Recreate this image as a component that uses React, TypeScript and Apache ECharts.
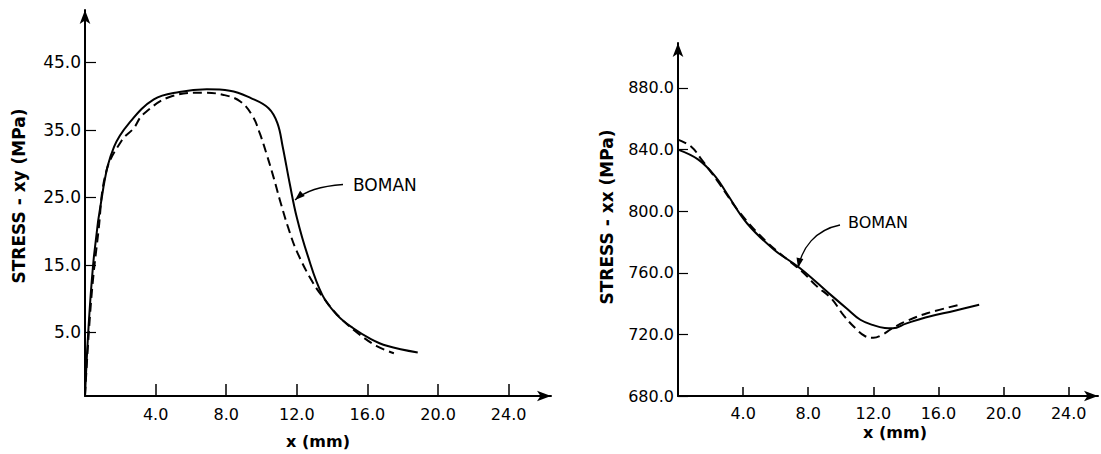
import React, { useEffect, useRef } from "react";
import * as echarts from "echarts";

// ---- Left panel: STRESS - xy ----
const leftXTicks = [4, 8, 12, 16, 20, 24];
const leftYTicks = [5, 15, 25, 35, 45];
const leftSolid: number[][] = [
  [0, -4.4], [0.45, 14.7], [1.05, 26.6], [1.65, 32.5], [2.5, 36.0], [3.9, 39.5],
  [5.35, 40.6], [6.9, 41.0], [8.2, 40.8], [9.4, 39.7], [10.4, 38.2], [10.9, 36.0],
  [11.2, 32.5], [11.6, 27.0], [12.0, 22.0], [12.6, 16.5], [13.45, 10.5], [14.3, 7.5],
  [15.2, 5.6], [16.2, 4.0], [17.1, 3.0], [18.85, 2.0],
];
const leftDashed: number[][] = [
  [0, -4.4], [0.35, 9.8], [0.75, 19.7], [1.2, 28.8], [2.1, 33.5], [2.75, 35.2],
  [3.3, 37.3], [4.95, 40.0], [6.7, 40.5], [7.8, 40.2], [8.8, 39.2], [9.5, 37.0],
  [9.9, 34.5], [10.3, 31.3], [10.7, 27.8], [11.05, 24.5], [11.5, 20.6], [12.0, 17.0],
  [12.9, 12.4], [13.6, 9.8], [14.4, 7.3], [15.35, 5.1], [16.5, 3.0], [17.5, 1.9],
];

// ---- Right panel: STRESS - xx ----
const rightXTicks = [4, 8, 12, 16, 20, 24];
const rightYTicks = [680, 720, 760, 800, 840, 880];
const rightSolid: number[][] = [
  [0, 840], [1.25, 833.5], [2.3, 822.5], [3.0, 811.5], [4.25, 792], [5.9, 775],
  [7.5, 763], [9.4, 745.5], [10.4, 736.5], [11.2, 729.5], [12.0, 726], [12.7, 724.2],
  [13.2, 724], [14.0, 727], [15.2, 731], [17.0, 735.4], [18.5, 739.2],
];
const rightDashed: number[][] = [
  [0, 846.5], [0.8, 842], [1.45, 833.5], [2.5, 818.5], [3.8, 799], [5.5, 779.5],
  [7.6, 761], [8.5, 751.5], [9.4, 743.5], [10.2, 732], [10.9, 724], [11.5, 718.8],
  [12.0, 717.8], [12.5, 719.5], [13.1, 723.5], [14.0, 728.5], [15.3, 733.7], [17.2, 739.0],
];

const labelText = "BOMAN";
const FONT = "DejaVu Sans";

function arrowHead(tip: number[], from: number[], len = 10, w = 3.5) {
  const dx = tip[0] - from[0];
  const dy = tip[1] - from[1];
  const L = Math.hypot(dx, dy) || 1;
  const ux = dx / L, uy = dy / L;
  const bx = tip[0] - ux * len, by = tip[1] - uy * len;
  const px = -uy, py = ux;
  return [tip, [bx + px * w, by + py * w], [bx - px * w, by - py * w]];
}

export default function App() {
  const ref = useRef<HTMLDivElement>(null);
  useEffect(() => {
    if (!ref.current) return;
    const chart = echarts.init(ref.current, null, { renderer: "svg" });

    const axisCommon = (fontSize: number) => ({
      axisLine: {
        show: true,
        onZero: false,
        symbol: ["none", "arrow"],
        symbolSize: [8, 14],
        lineStyle: { color: "#000", width: 2 },
      },
      splitLine: { show: false },
      axisLabel: {
        color: "#000",
        fontFamily: FONT,
        fontSize,
        formatter: (v: number) => v.toFixed(1),
      },
    });

    const lineSeries = (data: number[][], idx: number, dashed: boolean) => ({
      type: "line",
      xAxisIndex: idx,
      yAxisIndex: idx,
      data,
      showSymbol: false,
      symbol: "none",
      smooth: 0.4,
      lineStyle: {
        color: "#000",
        width: 2,
        type: dashed ? [9, 5] : "solid",
      },
      silent: true,
    });

    const lStart = [343, 184.5], lC1 = [322, 186], lC2 = [305, 191], lEnd = [295, 200];
    const rStart = [840, 225], rC1 = [815, 230], rC2 = [802, 248], rEnd = [798, 268];

    chart.setOption({
      animation: false,
      backgroundColor: "#fff",
      grid: [
        { left: 85, right: 550, top: 10, bottom: 58 },
        { left: 678, right: 3, top: 43, bottom: 58 },
      ],
      xAxis: [
        {
          gridIndex: 0, type: "value", min: 0, max: 26.4,
          ...axisCommon(16),
          axisTick: { show: true, inside: true, length: 12, customValues: leftXTicks, lineStyle: { color: "#000", width: 1.5 } },
          axisLabel: { ...axisCommon(16).axisLabel, margin: 10, customValues: leftXTicks },
        },
        {
          gridIndex: 1, type: "value", min: 0, max: 25.8,
          ...axisCommon(16),
          axisTick: { show: true, inside: true, length: 9, customValues: rightXTicks, lineStyle: { color: "#000", width: 1.5 } },
          axisLabel: { ...axisCommon(16).axisLabel, margin: 9, customValues: rightXTicks },
        },
      ],
      yAxis: [
        {
          gridIndex: 0, type: "value", min: -4.44, max: 52.75,
          ...axisCommon(17),
          axisTick: { show: true, inside: true, length: 11, customValues: leftYTicks, lineStyle: { color: "#000", width: 1.2 } },
          axisLabel: { ...axisCommon(17).axisLabel, margin: 4, customValues: leftYTicks },
        },
        {
          gridIndex: 1, type: "value", min: 680, max: 909.2,
          ...axisCommon(16),
          axisTick: { show: true, inside: true, length: 10, customValues: rightYTicks, lineStyle: { color: "#000", width: 1.2 } },
          axisLabel: { ...axisCommon(16).axisLabel, margin: 4, customValues: rightYTicks },
        },
      ],
      series: [
        lineSeries(leftSolid, 0, false),
        lineSeries(leftDashed, 0, true),
        lineSeries(rightSolid, 1, false),
        lineSeries(rightDashed, 1, true),
      ],
      graphic: [
        {
          type: "text", x: 19, y: 196, rotation: Math.PI / 2,
          style: { text: "STRESS - xy (MPa)", fontFamily: FONT, fontWeight: "bold", fontSize: 17, fill: "#000", align: "center", verticalAlign: "middle" },
        },
        {
          type: "text", x: 318, y: 441,
          style: { text: "x (mm)", fontFamily: FONT, fontWeight: "bold", fontSize: 16, fill: "#000", align: "center", verticalAlign: "middle" },
        },
        {
          type: "text", x: 607, y: 217, rotation: Math.PI / 2,
          style: { text: "STRESS - xx (MPa)", fontFamily: FONT, fontWeight: "bold", fontSize: 17, fill: "#000", align: "center", verticalAlign: "middle" },
        },
        {
          type: "text", x: 895, y: 432,
          style: { text: "x (mm)", fontFamily: FONT, fontWeight: "bold", fontSize: 16, fill: "#000", align: "center", verticalAlign: "middle" },
        },
        {
          type: "text", x: 353, y: 185,
          style: { text: labelText, fontFamily: FONT, fontSize: 17, fill: "#000", align: "left", verticalAlign: "middle" },
        },
        {
          type: "text", x: 848, y: 222.5,
          style: { text: labelText, fontFamily: FONT, fontSize: 16, fill: "#000", align: "left", verticalAlign: "middle" },
        },
        {
          type: "bezierCurve",
          shape: { x1: lStart[0], y1: lStart[1], cpx1: lC1[0], cpy1: lC1[1], cpx2: lC2[0], cpy2: lC2[1], x2: lEnd[0], y2: lEnd[1] },
          style: { stroke: "#000", lineWidth: 1.3, fill: "none" },
        },
        {
          type: "polygon",
          shape: { points: arrowHead(lEnd, lC2) },
          style: { fill: "#000" },
        },
        {
          type: "bezierCurve",
          shape: { x1: rStart[0], y1: rStart[1], cpx1: rC1[0], cpy1: rC1[1], cpx2: rC2[0], cpy2: rC2[1], x2: rEnd[0], y2: rEnd[1] },
          style: { stroke: "#000", lineWidth: 1.3, fill: "none" },
        },
        {
          type: "polygon",
          shape: { points: arrowHead(rEnd, rC2) },
          style: { fill: "#000" },
        },
      ],
    });
    return () => chart.dispose();
  }, []);
  return (
    <div
      ref={ref}
      style={{ position: "absolute", left: 0, top: 0, width: 1101, height: 454, background: "#fff" }}
    />
  );
}
